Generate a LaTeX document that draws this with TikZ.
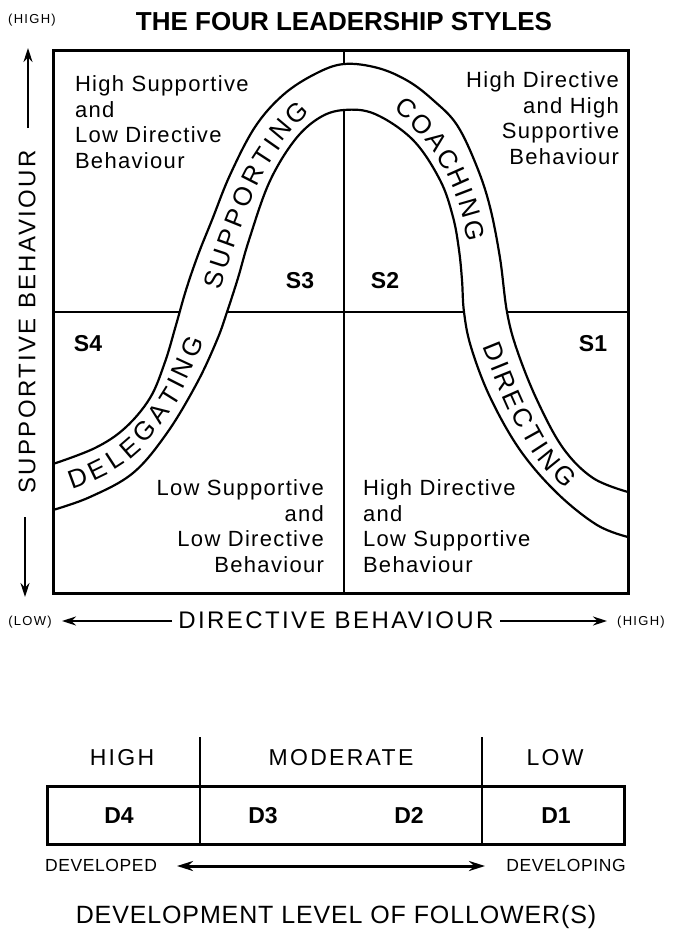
\documentclass[tikz,border=0pt]{standalone}
\usepackage{fontspec}
\setmainfont{Liberation Sans}
\newfontfamily\spaced[LetterSpace=10]{Liberation Sans}
\newfontfamily\qspaced[LetterSpace=6]{Liberation Sans}
\newfontfamily\lspaced[LetterSpace=3.5]{Liberation Sans}
\usetikzlibrary{arrows.meta}
\newcommand\qfont{\qspaced\fontsize{22}{25.5}\selectfont}
\newcommand\bandfont{\fontsize{26}{26}\selectfont}
\newcommand\axfont{\spaced\fontsize{24}{24}\selectfont}
\newcommand\smallfont{\spaced\fontsize{13}{13}\selectfont}
\newcommand\sfnt{\bfseries\fontsize{23}{23}\selectfont}
\newcommand\lvlfont{\spaced\fontsize{23}{23}\selectfont}
\newcommand\dfnt{\bfseries\fontsize{23}{23}\selectfont}
\newcommand\devfont{\lspaced\fontsize{17.5}{17.5}\selectfont}
\newcommand\dlfont{\lspaced\fontsize{25}{25}\selectfont}
\begin{document}
\begin{tikzpicture}[x=1pt,y=-1pt,
  txt/.style={inner sep=0pt, outer sep=0pt},
  lbl/.style={inner sep=0pt, outer sep=0pt, text height=16.5pt, text depth=0pt},
  frame/.style={line width=3pt},
  divline/.style={line width=2pt},
  curve/.style={line width=2.2pt, line join=round},
  axarrow/.style={line width=1.8pt, -{Stealth[length=14pt,width=9pt]}},
  bandletter/.style={inner sep=0pt, font=\bandfont, text height=18.6pt, text depth=0pt}
]
\path[use as bounding box, fill=white] (0,0) rectangle (673,932);

% title and top-left label
\node[txt, font=\bfseries\fontsize{26}{26}\selectfont] (title) at (344,22) {THE FOUR LEADERSHIP STYLES};
\node[txt, font=\smallfont] (hightop) at (32,20) {(HIGH)};

% dividers
\draw[divline] (344,50) -- (344,593);
\draw[divline] (53,312) -- (628,312);

% band
\fill[white] plot[smooth,tension=0.6] coordinates {(53,464) (95,448) (125,428) (150,398) (165,362) (176,325) (186,290) (198,255) (212,220) (230,175) (255,127) (283,95) (315,74) (344,64) (378,68) (408,81) (433,100) (457,125) (477,167) (490,207) (500,258) (507,312) (517,350) (537,400) (563,448) (593,478) (628,492)}
  -- plot[smooth,tension=0.6] coordinates {(628,537) (597,525) (557,493) (520,450) (490,397) (471,347) (464,312) (462,280) (459,250) (453,217) (440,180) (413,140) (375,114) (344,110) (319,118) (294,141) (269,183) (249,240) (238,278) (227,312) (217,340) (197,383) (167,433) (133,473) (90,497) (53,510)} -- cycle;
\draw[curve] plot[smooth,tension=0.6] coordinates {(53,464) (95,448) (125,428) (150,398) (165,362) (176,325) (186,290) (198,255) (212,220) (230,175) (255,127) (283,95) (315,74) (344,64) (378,68) (408,81) (433,100) (457,125) (477,167) (490,207) (500,258) (507,312) (517,350) (537,400) (563,448) (593,478) (628,492)};
\draw[curve] plot[smooth,tension=0.6] coordinates {(53,510) (90,497) (133,473) (167,433) (197,383) (217,340) (227,312) (238,278) (249,240) (269,183) (294,141) (319,118) (344,110) (375,114) (413,140) (440,180) (453,217) (459,250) (462,280) (464,312) (471,347) (490,397) (520,450) (557,493) (597,525) (628,537)};

% DELEGATING
\node[bandletter, rotate=20] (dl1) at (77.5,477.5) {D};
\node[bandletter, rotate=26] (dl2) at (97.2,468.9) {E};
\node[bandletter, rotate=33] (dl3) at (114.2,459.2) {L};
\node[bandletter, rotate=41] (dl4) at (129.7,447.7) {E};
\node[bandletter, rotate=49] (dl5) at (144.6,431.0) {G};
\node[bandletter, rotate=54] (dl6) at (158.3,413.4) {A};
\node[bandletter, rotate=58] (dl7) at (169.5,396.7) {T};
\node[bandletter, rotate=63] (dl8) at (175.6,382.8) {I};
\node[bandletter, rotate=65] (dl9) at (182.3,367.6) {N};
\node[bandletter, rotate=67] (dl10) at (191.5,346.4) {G};
% SUPPORTING
\node[bandletter, rotate=74] (sp1) at (213.8,279.7) {S};
\node[bandletter, rotate=72] (sp2) at (220.2,258.6) {U};
\node[bandletter, rotate=70] (sp3) at (227.3,237.7) {P};
\node[bandletter, rotate=68] (sp4) at (234.7,217.7) {P};
\node[bandletter, rotate=67] (sp5) at (243.3,196.6) {O};
\node[bandletter, rotate=63] (sp6) at (252.1,174.9) {R};
\node[bandletter, rotate=57] (sp7) at (263.3,156.9) {T};
\node[bandletter, rotate=55] (sp8) at (271.8,143.9) {I};
\node[bandletter, rotate=50] (sp9) at (280.6,129.6) {N};
\node[bandletter, rotate=44] (sp10) at (296.4,112.7) {G};
% COACHING
\node[bandletter, rotate=-38] (co1) at (406.8,108.2) {C};
\node[bandletter, rotate=-46] (co2) at (422.7,124.3) {O};
\node[bandletter, rotate=-53] (co3) at (436.8,140.8) {A};
\node[bandletter, rotate=-56] (co4) at (448.5,158.6) {C};
\node[bandletter, rotate=-66] (co5) at (458.9,177.7) {H};
\node[bandletter, rotate=-69] (co6) at (464.6,192.8) {I};
\node[bandletter, rotate=-74] (co7) at (470.2,207.9) {N};
\node[bandletter, rotate=-78] (co8) at (474.8,230.0) {G};
% DIRECTING
\node[bandletter, rotate=-68] (di1) at (494.6,351.4) {D};
\node[bandletter, rotate=-68] (di2) at (500.3,365.9) {I};
\node[bandletter, rotate=-68] (di3) at (506.1,380.4) {R};
\node[bandletter, rotate=-66] (di4) at (513.8,399.5) {E};
\node[bandletter, rotate=-62] (di5) at (523.6,417.7) {C};
\node[bandletter, rotate=-61] (di6) at (533.1,435.3) {T};
\node[bandletter, rotate=-57] (di7) at (539.8,447.8) {I};
\node[bandletter, rotate=-51] (di8) at (549.9,459.5) {N};
\node[bandletter, rotate=-47] (di9) at (565.1,475.7) {G};

% frame
\draw[frame] (53,50) rectangle (628,593);

% quadrant texts
\node[txt, font=\qfont, align=left, anchor=north west] (tl) at (75,76) {High Supportive\\and\\Low Directive\\Behaviour};
\node[txt, font=\qfont, align=right, anchor=north east] (tr) at (619,72) {High Directive\\and High\\Supportive\\Behaviour};
\node[txt, font=\qfont, align=right, anchor=north east] (bl) at (324,480) {Low Supportive\\and\\Low Directive\\Behaviour};
\node[txt, font=\qfont, align=left, anchor=north west] (br) at (363,480) {High Directive\\and\\Low Supportive\\Behaviour};

% S labels
\node[lbl, font=\sfnt] (s3) at (300,280) {S3};
\node[lbl, font=\sfnt] (s2) at (385,280) {S2};
\node[lbl, font=\sfnt] (s4) at (88,343) {S4};
\node[lbl, font=\sfnt] (s1) at (593,343) {S1};

% vertical axis
\node[txt, font=\axfont, rotate=90] (supp) at (27,322) {SUPPORTIVE BEHAVIOUR};
\coordinate (vt) at (28,48); \coordinate (vtl) at (28,128);
\coordinate (vb) at (25,597); \coordinate (vbl) at (25,517);
\draw[axarrow] (vtl) -- (vt);
\draw[axarrow] (vbl) -- (vb);

% horizontal axis
\node[txt, font=\axfont] (dir) at (336,620) {DIRECTIVE BEHAVIOUR};
\node[txt, font=\smallfont] (low) at (30,622) {(LOW)};
\node[txt, font=\smallfont] (high) at (641,622) {(HIGH)};
\coordinate (hl) at (62,621); \coordinate (hl0) at (172,621);
\coordinate (hr0) at (500,621); \coordinate (hr) at (607,621);
\draw[axarrow] (hl0) -- (hl);
\draw[axarrow] (hr0) -- (hr);

% development level box
\draw[line width=2.5pt] (200,737) -- (200,844);
\draw[line width=2.5pt] (482,737) -- (482,844);
\draw[frame] (47,786) rectangle (624,844);
\node[lbl, font=\lvlfont] (lh) at (122,757) {HIGH};
\node[lbl, font=\lvlfont] (lm) at (341,757) {MODERATE};
\node[lbl, font=\lvlfont] (ll) at (555,757) {LOW};
\node[lbl, font=\dfnt] (d4) at (119,815) {D4};
\node[lbl, font=\dfnt] (d3) at (263,815) {D3};
\node[lbl, font=\dfnt] (d2) at (409,815) {D2};
\node[lbl, font=\dfnt] (d1) at (556,815) {D1};
\node[txt, font=\devfont] (developed) at (101,865) {DEVELOPED};
\node[txt, font=\devfont] (developing) at (566,865) {DEVELOPING};
\coordinate (da) at (177,866); \coordinate (db) at (485,866);
\draw[line width=3pt, {Stealth[length=16pt,width=10pt]}-{Stealth[length=16pt,width=10pt]}] (da) -- (db);
\node[txt, font=\dlfont] (devlevel) at (336,917) {DEVELOPMENT LEVEL OF FOLLOWER(S)};
\end{tikzpicture}
\end{document}
